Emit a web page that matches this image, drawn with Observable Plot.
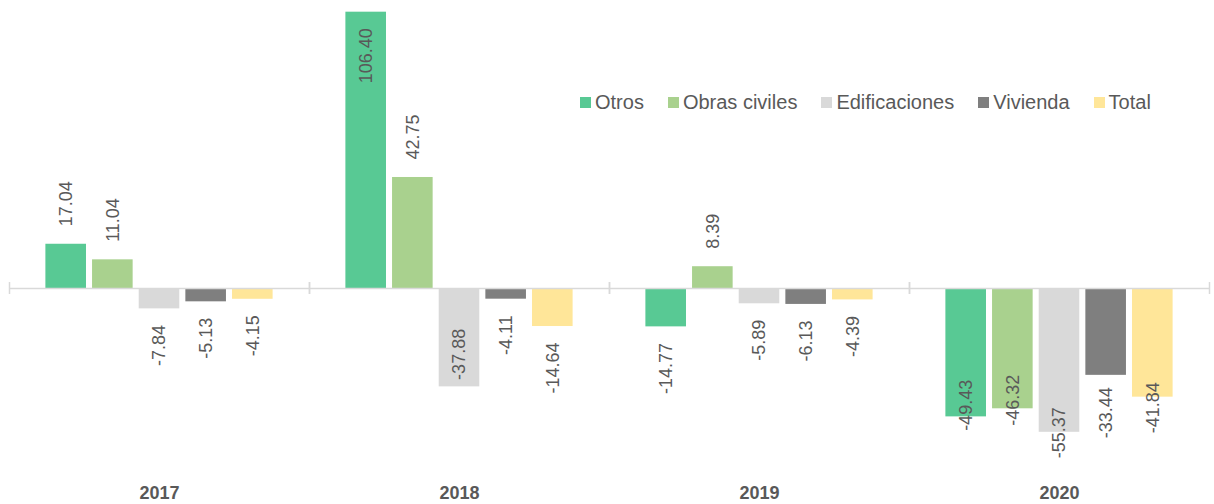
<!DOCTYPE html>
<html><head><meta charset="utf-8">
<script src="https://cdn.jsdelivr.net/npm/d3@7"></script>
<script src="https://cdn.jsdelivr.net/npm/@observablehq/plot@0.6"></script>
<style>
body{margin:0;background:#fff;}
#wrap{position:relative;width:1214px;height:504px;font-family:"Liberation Sans",Arial,sans-serif;}
#legend{position:absolute;left:580px;top:90px;display:flex;align-items:center;font-size:20px;line-height:24px;color:#595959;white-space:nowrap;}
.item{display:flex;align-items:center;margin-right:24px;}
.sw{width:11px;height:11px;margin-right:4px;}
</style></head>
<body><div id="wrap"><div id="chart"></div><div id="legend"></div></div>
<script>
const years = ["2017", "2018", "2019", "2020"];
const series = ["Otros", "Obras civiles", "Edificaciones", "Vivienda", "Total"];
const otros = [17.04, 106.40, -14.77, -49.43];
const obrasCiviles = [11.04, 42.75, 8.39, -46.32];
const edificaciones = [-7.84, -37.88, -5.89, -55.37];
const vivienda = [-5.13, -4.11, -6.13, -33.44];
const total = [-4.15, -14.64, -4.39, -41.84];
const colors = ["#58c994", "#a9d18e", "#d9d9d9", "#7f7f7f", "#ffe699"];

const values = [otros, obrasCiviles, edificaciones, vivienda, total];
const rows = [];
years.forEach((year, i) => series.forEach((s, j) => rows.push({year, series: s, value: values[j][i]})));

// band layout inside each year group (domain [0,1])
const band = d3.scaleBand().domain(series).range([0, 1]).paddingInner(0.13).paddingOuter(0.78);
const bx1 = d => band(d.series);
const bx2 = d => band(d.series) + band.bandwidth();
const bxc = d => band(d.series) + band.bandwidth() / 2;

// label placement (Excel-like: outside end, some moved)
const overrides = {
  "2018|Otros": ["end", 16],
  "2018|Edificaciones": ["start", -7],
  "2020|Otros": ["start", 14],
  "2020|Obras civiles": ["start", 17],
  "2020|Edificaciones": ["start", 26],
  "2020|Vivienda": ["start", 63],
  "2020|Total": ["start", 36]
};
function spec(d) {
  const o = overrides[d.year + "|" + d.series];
  if (o) return o;
  return d.value >= 0 ? ["start", -18] : ["end", 16];
}
const groups = d3.group(rows, d => spec(d).join(","));
const labelMarks = [];
for (const [key, sub] of groups) {
  const [anchor, dy] = key.split(",");
  labelMarks.push(Plot.text(sub, {
    fx: "year", x: bxc, y: "value", text: d => d.value.toFixed(2),
    rotate: -90, textAnchor: anchor, dy: +dy, fill: "#595959", fontSize: 18
  }));
}

const chart = Plot.plot({
  width: 1214, height: 504,
  marginTop: 0, marginBottom: 30, marginLeft: 9, marginRight: 5,
  fx: {domain: years, padding: 0, round: false, label: null},
  x: {domain: [0, 1], axis: null},
  y: {domain: [-71.62, 110.9], axis: null},
  color: {domain: series, range: colors},
  style: {fontFamily: "'Liberation Sans', Arial, sans-serif", background: "white", color: "#595959"},
  marks: [
    Plot.rect(rows, {fx: "year", x1: bx1, x2: bx2, y1: 0, y2: "value", fill: "series"}),
    Plot.ruleY([0], {stroke: "#d9d9d9", strokeWidth: 1.5}),
    Plot.ruleX([0, 1], {y1: -2.3, y2: 2.3, stroke: "#d9d9d9", strokeWidth: 1.5}),
    ...labelMarks,
    Plot.axisFx({anchor: "bottom", tickSize: 0, tickPadding: 12, label: null, fontSize: 18, fontWeight: "bold", fill: "#595959"})
  ]
});
document.getElementById("chart").appendChild(chart);

const legend = document.getElementById("legend");
series.forEach((s, i) => {
  const it = document.createElement("div");
  it.className = "item";
  const sw = document.createElement("span");
  sw.className = "sw";
  sw.style.background = colors[i];
  const tx = document.createElement("span");
  tx.textContent = s;
  it.appendChild(sw); it.appendChild(tx);
  legend.appendChild(it);
});
</script>
</body></html>
